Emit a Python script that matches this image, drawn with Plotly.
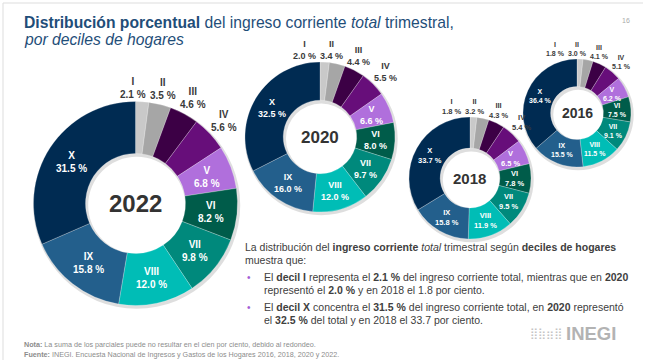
import plotly.graph_objects as go
import numpy as np

W, H = 651, 360

deciles = ["I", "II", "III", "IV", "V", "VI", "VII", "VIII", "IX", "X"]
v2022 = [2.1, 3.5, 4.6, 5.6, 6.8, 8.2, 9.8, 12.0, 15.8, 31.5]
v2020 = [2.0, 3.4, 4.4, 5.5, 6.6, 8.0, 9.7, 12.0, 16.0, 32.5]
v2018 = [1.8, 3.2, 4.3, 5.4, 6.5, 7.8, 9.5, 11.9, 15.8, 33.7]
v2016 = [1.8, 3.0, 4.1, 5.1, 6.2, 7.5, 9.1, 11.5, 15.5, 36.4]
outside = [True, True, True, True, False, False, False, False, False, False]

colors = ["#c9c9c9", "#a6a6a6", "#3c0045", "#670e7a", "#b06fdc",
          "#005c4a", "#00897c", "#00bdb6", "#235f8c", "#002b52"]

# year, values, center x, center y (px), radius (px), label font, year font
pies = [
    ("2022", v2022, 135.5, 203.5, 102, 10, 24),
    ("2020", v2020, 320, 137, 75, 9, 17),
    ("2018", v2018, 470, 178, 61, 7.5, 15),
    ("2016", v2016, 577, 113, 54, 7, 14),
]
HOLE = 0.49

FONT = "Liberation Sans, Arial, sans-serif"
CW = {".": .278, " ": .278, "%": .889, "I": .278, "V": .667, "X": .667}


def text_w(s, fs):
    return sum(CW.get(c, .556) for c in s) * fs


def px(x):
    return x / W


def py(y):
    return 1 - y / H


fig = go.Figure()
annotations = []

for year, vals, cx, cy, R, fs, yfs in pies:
    # soft shadow ring behind the donut
    sR = R + 1.5
    sx, sy = cx + 1.2, cy + 1.8
    fig.add_trace(go.Pie(
        values=[1], labels=[""], sort=False, hole=(HOLE * R - 1.5) / sR,
        textinfo="none", hoverinfo="skip", showlegend=False,
        marker=dict(colors=["rgba(0,0,0,0.13)"], line=dict(width=0)),
        domain=dict(x=[px(sx - sR), px(sx + sR)], y=[py(sy + sR), py(sy - sR)]),
    ))
    fig.add_trace(go.Pie(
        labels=deciles, values=vals, sort=False, direction="clockwise",
        rotation=0, hole=HOLE, textinfo="none", hoverinfo="label+value",
        marker=dict(colors=colors, line=dict(color="rgba(255,255,255,0.6)", width=0.4)),
        domain=dict(x=[px(cx - R), px(cx + R)], y=[py(cy + R), py(cy - R)]),
        showlegend=False,
    ))
    annotations.append(dict(
        x=px(cx), y=py(cy), xref="paper", yref="paper", text=f"<b>{year}</b>",
        showarrow=False, font=dict(family=FONT, size=yfs, color="#333333"),
        xanchor="center", yanchor="middle"))
    tot = sum(vals)
    cum = np.cumsum([0] + list(vals))[:-1]
    pos = []
    for i, v in enumerate(vals):
        ang = np.deg2rad((cum[i] + v / 2) / tot * 360)
        vtxt = f"{v:.1f} %"
        w = max(text_w(vtxt, fs), text_w(deciles[i], fs)) / 2
        h = 1.1 * fs
        if outside[i]:
            d = R + w * abs(np.sin(ang)) + h * abs(np.cos(ang)) + 2
        else:
            d = R * (1 + HOLE) / 2
        pos.append([cx + d * np.sin(ang), cy - d * np.cos(ang), w])
    # avoid overlap among outside labels (shift leftwards)
    for i in range(2, -1, -1):
        if outside[i] and outside[i + 1]:
            lim = pos[i + 1][0] - pos[i + 1][2] - pos[i][2] - 4
            if pos[i][0] > lim:
                pos[i][0] = lim
    for i, v in enumerate(vals):
        col = "#3a3a3a" if outside[i] else "#ffffff"
        annotations.append(dict(
            x=px(pos[i][0]), y=py(pos[i][1]), xref="paper", yref="paper",
            text=f"<b>{deciles[i]}<br>{v:.1f} %</b>", showarrow=False,
            font=dict(family=FONT, size=fs, color=col), align="center",
            xanchor="center", yanchor="middle"))

TITLE_C = "#1f4e79"
annotations += [
    dict(x=px(22), y=py(22), text="<b>Distribución porcentual</b> del ingreso corriente <i>total</i> trimestral,",
         font=dict(family=FONT, size=15.7, color=TITLE_C)),
    dict(x=px(22), y=py(39), text="<i>por deciles de hogares</i>",
         font=dict(family=FONT, size=15.7, color=TITLE_C)),
    dict(x=px(620), y=py(20), text="16", font=dict(family=FONT, size=7, color="#aaaaaa")),
]

BODY = "#404040"
body_lines = [
    (243, 247, "La distribución del <b>ingreso corriente</b> <i>total</i> trimestral según <b>deciles de hogares</b>"),
    (243, 260, "muestra que:"),
    (262, 277, "El <b>decil I</b> representa el <b>2.1 %</b> del ingreso corriente total, mientras que en <b>2020</b>"),
    (262, 290, "representó el <b>2.0 %</b> y en 2018 el 1.8 por ciento."),
    (262, 307, "El <b>decil X</b> concentra el <b>31.5 %</b> del ingreso corriente total, en <b>2020</b> representó"),
    (262, 320, "el <b>32.5 %</b> del total y en 2018 el 33.7 por ciento."),
]
for x, y, t in body_lines:
    annotations.append(dict(x=px(x), y=py(y), text=t, font=dict(family=FONT, size=10.5, color=BODY)))
for y in (277, 307):
    annotations.append(dict(x=px(245), y=py(y), text="•", font=dict(family=FONT, size=10, color="#a35fd6")))

annotations += [
    dict(x=px(22), y=py(344), text="<b>Nota:</b> La suma de los parciales puede no resultar en el cien por ciento, debido al redondeo.",
         font=dict(family=FONT, size=7.2, color="#8c8c8c")),
    dict(x=px(22), y=py(354), text="<b>Fuente:</b> INEGI. Encuesta Nacional de Ingresos y Gastos de los Hogares 2016, 2018, 2020 y 2022.",
         font=dict(family=FONT, size=7.2, color="#8c8c8c")),
    dict(x=px(564), y=py(333), text="<b>INEGI</b>", font=dict(family=FONT, size=18.5, color="#b3b3b3")),
    dict(x=px(528), y=py(333), text="⣿⣷⣶⣿", font=dict(family="DejaVu Sans", size=11, color="#c4c4c4")),
]

for a in annotations:
    a.setdefault("xref", "paper")
    a.setdefault("yref", "paper")
    a.setdefault("showarrow", False)
    a.setdefault("xanchor", "left")
    a.setdefault("yanchor", "middle")

shapes = [
    dict(type="line", xref="paper", yref="paper", x0=px(3), x1=px(643), y0=py(3), y1=py(3),
         line=dict(color="#dddddd", width=1), layer="below"),
    dict(type="line", xref="paper", yref="paper", x0=px(3), x1=px(3), y0=py(3), y1=py(362),
         line=dict(color="#dddddd", width=1), layer="below"),
]

fig.update_layout(
    width=W, height=H, margin=dict(l=0, r=0, t=0, b=0),
    paper_bgcolor="white", plot_bgcolor="white",
    annotations=annotations, shapes=shapes,
)
fig.write_html("out.html", config={"displayModeBar": False},
               post_script="document.body.style.margin='0px';document.body.style.overflow='hidden';")
